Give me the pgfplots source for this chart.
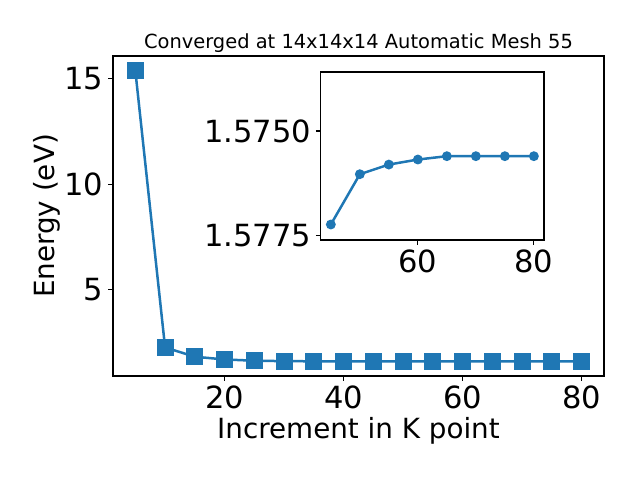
\documentclass[border=0pt]{standalone}
\usepackage{fontspec}
\setmainfont{DejaVu Sans}
\usepackage{pgfplots}
\pgfplotsset{compat=1.18}
\definecolor{mblue}{HTML}{1F77B4}
\begin{document}
\begin{tikzpicture}[x=1pt,y=1pt]
\path[use as bounding box] (0,0) rectangle (460.8,345.6);
\begin{axis}[
  at={(81.36pt,74.88pt)}, anchor=south west,
  scale only axis, width=353.5pt, height=230.4pt,
  xmin=1.25, xmax=83.75, ymin=0.884, ymax=16.09,
  xtick={20,40,60,80}, ytick={5,10,15},
  tick align=outside, major tick length=3.5pt,
  every tick/.style={black, line width=0.8pt},
  axis line style={line width=0.8pt},
  xtick pos=bottom, ytick pos=left,
  /pgf/number format/assume math mode=true,
  tick label style={font=\fontsize{22}{26}\selectfont},
  label style={font=\fontsize{20}{24}\selectfont},
  xlabel={Increment in K point}, ylabel={Energy (eV)},
  ylabel shift=-4pt, xlabel shift=-1pt,
  title={Converged at 14x14x14 Automatic Mesh 55},
  title style={font=\fontsize{14}{17}\selectfont, yshift=-7pt},
]
\addplot[mblue, line width=1.8pt, mark=square*, mark size=5.2pt, mark options={solid, fill=mblue, draw=mblue}] coordinates {
(5,15.4) (10,2.24) (15,1.80) (20,1.67) (25,1.61) (30,1.59) (35,1.582) (40,1.579)
(45,1.57723) (50,1.57603) (55,1.5758) (60,1.57568) (65,1.5756) (70,1.5756) (75,1.5756) (80,1.5756)
};
\end{axis}
\begin{axis}[
  at={(230.9pt,172.8pt)}, anchor=south west,
  scale only axis, width=160.8pt, height=121pt,
  xmin=43.25, xmax=81.75, ymin=1.57359, ymax=1.5776, y dir=reverse,
  xtick={60,80}, ytick={1.575,1.5775},
  yticklabel style={/pgf/number format/.cd, fixed, precision=4, zerofill, /tikz/.cd},
  scaled y ticks=false,
  tick align=outside, major tick length=3.5pt,
  every tick/.style={black, line width=0.8pt},
  axis line style={line width=0.8pt},
  xtick pos=bottom, ytick pos=left,
  /pgf/number format/assume math mode=true,
  tick label style={font=\fontsize{22}{26}\selectfont},
]
\addplot[mblue, line width=1.8pt, mark=*, mark size=2.6pt, mark options={solid, fill=mblue, draw=mblue}] coordinates {
(45,1.57723) (50,1.57603) (55,1.5758) (60,1.57568) (65,1.5756) (70,1.5756) (75,1.5756) (80,1.5756)
};
\end{axis}
\end{tikzpicture}
\end{document}
